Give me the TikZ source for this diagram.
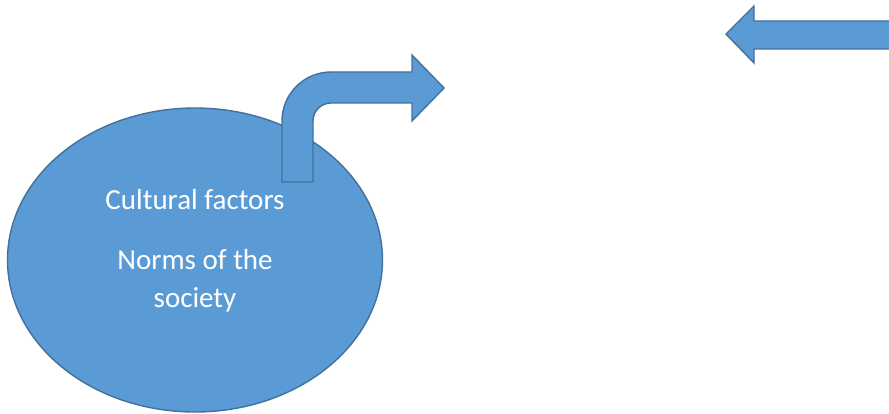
\documentclass[tikz,border=0pt]{standalone}
\usepackage{fontspec}
\setmainfont{Carlito}
\usepackage{tikz}
\usetikzlibrary{shapes.geometric}
\definecolor{officeblue}{HTML}{5B9BD5}
\definecolor{officeedge}{HTML}{41719C}
\tikzset{
  blockshape/.style={fill=officeblue, draw=officeedge, line width=1.4pt, line join=miter},
  whitetext/.style={text=white, font=\fontsize{29}{36}\selectfont, inner sep=0pt}
}

\begin{document}
\begin{tikzpicture}[x=1pt,y=1pt]
        \useasboundingbox (0,0) rectangle (889,413);
        % Ellipse
        \node[blockshape, ellipse, minimum width=375pt, minimum height=304pt, inner sep=0pt] (culture) at (195,153) {};
        % Labels inside the ellipse
        \node[whitetext] (factors) at (195,213) {Cultural factors};
        \node[whitetext] (norms) at (195,153) {Norms of the};
        \node[whitetext] (society) at (195,113) {society};
        % Bent arrow
        \draw[blockshape] (282,231) -- (282,292) arc[start angle=180, end angle=90, radius=49]
            -- (412,341) -- (412,358) -- (444,325) -- (412,292) -- (412,310) -- (331,310)
            arc[start angle=90, end angle=180, radius=18] -- (313,231) -- cycle;
        % Left arrow
        \draw[blockshape] (895,392) -- (754,392) -- (754,407) -- (726,379)
            -- (754,350) -- (754,364) -- (895,364);
    \end{tikzpicture}
\end{document}
